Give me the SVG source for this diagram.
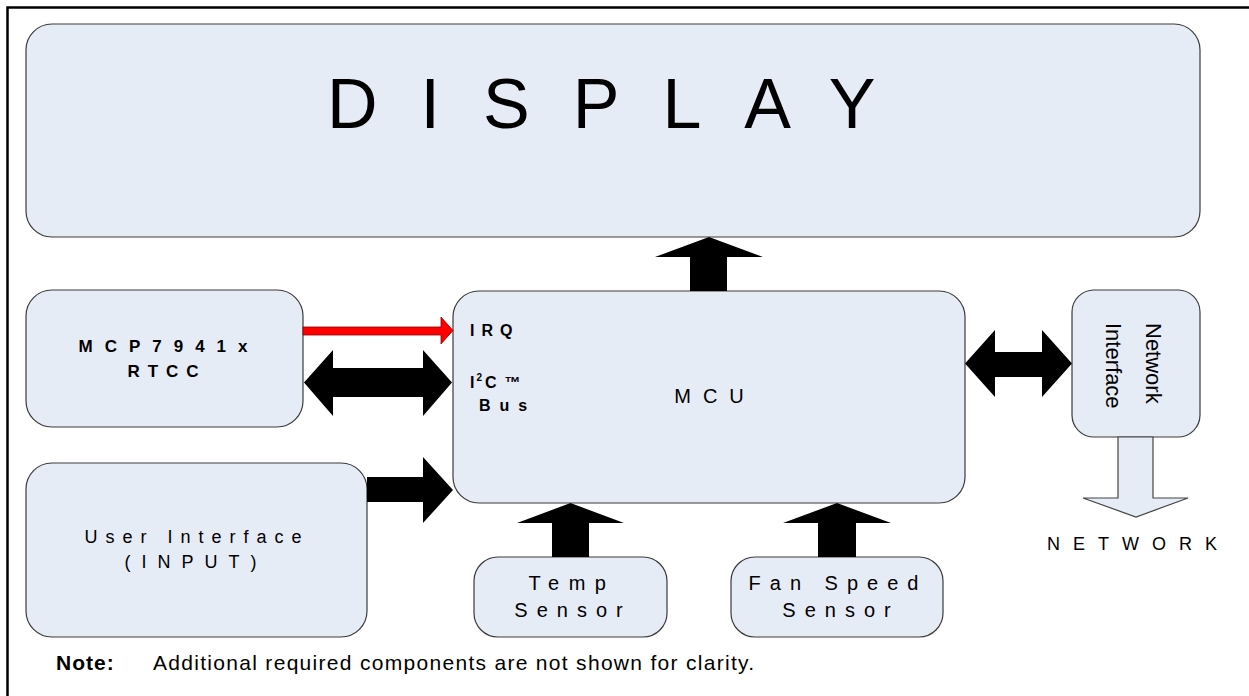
<svg xmlns="http://www.w3.org/2000/svg" width="1249" height="696" viewBox="0 0 1249 696">
<style>
.box{fill:#E6ECF6;stroke:#3a3a3a;stroke-width:1.2}
.t{font-family:"Liberation Sans",Arial,Helvetica,sans-serif;fill:#000}
.b{font-weight:bold}
.arr{fill:#000;stroke:none}
.red{fill:#FF0000;stroke:#8a0000;stroke-width:0.8}
.hollow{fill:#E6ECF6;stroke:#444;stroke-width:1.2}
</style>
<rect x="0" y="0" width="1249" height="696" fill="#fff"/>
<g id="frame">
<path d="M7.5,696 V7.5 H1249" fill="none" stroke="#000" stroke-width="2.5"/>
</g>
<g id="display">
<rect class="box" x="26" y="24" width="1174" height="213" rx="26"/>
<text class="t" x="327" y="128" font-size="70" letter-spacing="43">DISPLAY</text>
</g>
<g id="mcu">
<rect class="box" x="453" y="291" width="512" height="212" rx="26"/>
<text class="t" x="715" y="403" font-size="20" letter-spacing="12" text-anchor="middle">MCU</text>
<text class="t b" x="470" y="336" font-size="16" letter-spacing="7">IRQ</text>
<text class="t b" x="470" y="388" font-size="16">I<tspan font-size="10" dy="-7" dx="2">2</tspan><tspan dy="7" dx="3">C</tspan><tspan dx="8">™</tspan></text>
<text class="t b" x="479" y="411" font-size="16" letter-spacing="9">Bus</text>
</g>
<g id="rtcc">
<rect class="box" x="26" y="290" width="277" height="137" rx="26"/>
<text class="t b" x="169" y="352" font-size="17" letter-spacing="12" text-anchor="middle">MCP7941x</text>
<text class="t b" x="167" y="377" font-size="17" letter-spacing="8" text-anchor="middle">RTCC</text>
</g>
<g id="user-interface">
<rect class="box" x="26" y="463" width="341" height="174" rx="26"/>
<text class="t" x="197" y="543" font-size="18" letter-spacing="8" text-anchor="middle">User Interface</text>
<text class="t" x="196" y="568" font-size="18" letter-spacing="11" text-anchor="middle">(INPUT)</text>
</g>
<g id="temp-sensor">
<rect class="box" x="474" y="557" width="193" height="80" rx="24"/>
<text class="t" x="572" y="590" font-size="20" letter-spacing="9.5" text-anchor="middle">Temp</text>
<text class="t" x="573" y="617" font-size="20" letter-spacing="9" text-anchor="middle">Sensor</text>
</g>
<g id="fan-speed-sensor">
<rect class="box" x="731" y="557" width="212" height="80" rx="24"/>
<text class="t" x="838" y="590" font-size="20" letter-spacing="9" text-anchor="middle">Fan Speed</text>
<text class="t" x="841" y="617" font-size="20" letter-spacing="9" text-anchor="middle">Sensor</text>
</g>
<g id="network-interface">
<rect class="box" x="1072" y="290" width="128" height="147" rx="22"/>
<text class="t" transform="translate(1146,323) rotate(90)" font-size="22">Network</text>
<text class="t" transform="translate(1106,323) rotate(90)" font-size="22">Interface</text>
</g>
<g id="network-label">
<text class="t" x="1047" y="550" font-size="18" letter-spacing="13">NETWORK</text>
</g>
<g id="connectors">
<polygon class="arr" points="690,291 690,257 655,257 709,237 763,257 727,257 727,291"/>
<polygon class="red" points="303,327 441,327 441,317 453,330.5 441,344 441,335 303,335"/>
<polygon class="arr" points="304,382.5 333,350 333,368 423,368 423,350 452,382.5 423,416 423,397 333,397 333,416"/>
<polygon class="arr" points="367,477 423,477 423,457 453,490 423,523 423,502 367,502"/>
<polygon class="arr" points="552,557 552,523 517,523 570.5,503 624,523 589,523 589,557"/>
<polygon class="arr" points="818,557 818,523 783,523 837,503 891,523 856,523 856,557"/>
<polygon class="arr" points="965,363.5 995,330 995,352 1042,352 1042,330 1072,363.5 1042,397 1042,377 995,377 995,397"/>
<polygon class="hollow" points="1118,437 1118,498 1083,498 1136,517 1188,498 1153,498 1153,437"/>
</g>
<g id="note">
<text class="t b" x="56" y="670" font-size="21" letter-spacing="1">Note:</text>
<text class="t" x="153" y="670" font-size="21" letter-spacing="1.3">Additional required components are not shown for clarity.</text>
</g>
</svg>
